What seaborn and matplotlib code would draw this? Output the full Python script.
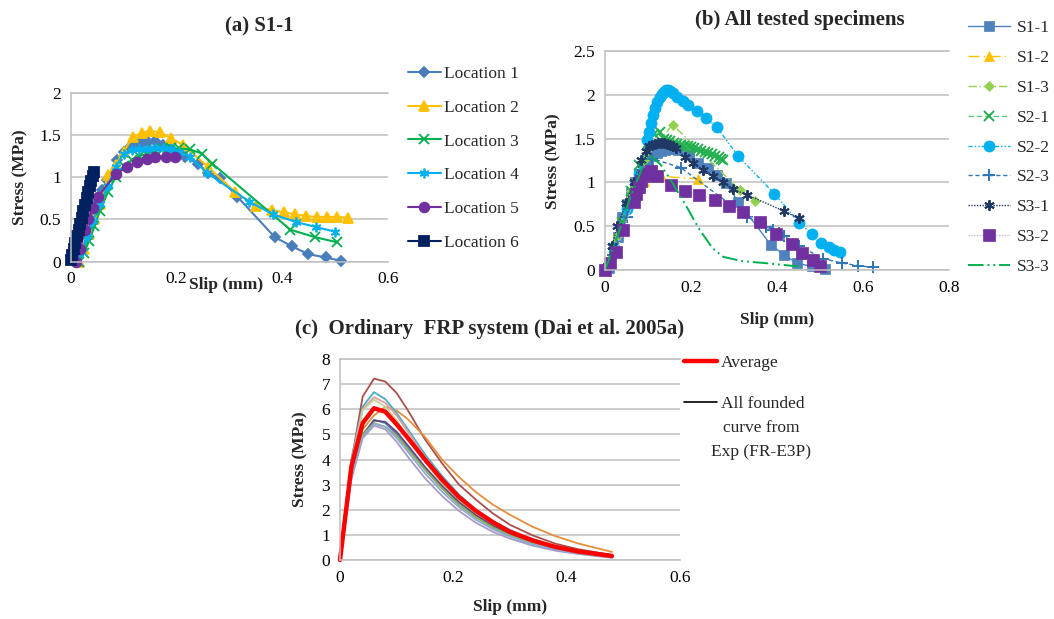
import matplotlib
matplotlib.use("Agg")
import matplotlib.pyplot as plt
import seaborn as sns
import numpy as np
from matplotlib.ticker import FuncFormatter
from matplotlib.lines import Line2D

sns.set_theme(style="white")
plt.rcParams['font.family'] = ['Liberation Serif', 'DejaVu Serif']

# ---------------- Panel (a): S1-1 locations ----------------
loc1_x = [0.01, 0.02, 0.03, 0.04, 0.05, 0.06, 0.068, 0.087, 0.10, 0.11, 0.12, 0.13, 0.137, 0.147, 0.16, 0.175, 0.19, 0.216, 0.241, 0.26, 0.282, 0.315, 0.386, 0.419, 0.449, 0.482, 0.512]
loc1_y = [0.0, 0.12, 0.3, 0.5, 0.7, 0.85, 0.97, 1.2, 1.3, 1.35, 1.38, 1.4, 1.41, 1.42, 1.43, 1.38, 1.33, 1.24, 1.16, 1.05, 0.99, 0.77, 0.29, 0.18, 0.09, 0.05, 0.01]
loc2_x = [0.015, 0.025, 0.035, 0.045, 0.055, 0.071, 0.085, 0.1, 0.118, 0.134, 0.15, 0.169, 0.19, 0.213, 0.26, 0.31, 0.35, 0.38, 0.404, 0.425, 0.445, 0.465, 0.484, 0.504, 0.525]
loc2_y = [0.0, 0.15, 0.33, 0.5, 0.68, 1.03, 1.15, 1.3, 1.48, 1.52, 1.55, 1.53, 1.46, 1.38, 1.12, 0.83, 0.66, 0.61, 0.585, 0.56, 0.54, 0.53, 0.53, 0.53, 0.52]
loc3_x = [0.015, 0.025, 0.035, 0.045, 0.055, 0.07, 0.085, 0.1, 0.115, 0.13, 0.145, 0.16, 0.175, 0.19, 0.205, 0.225, 0.248, 0.268, 0.415, 0.462, 0.504]
loc3_y = [0.0, 0.1, 0.25, 0.42, 0.6, 0.82, 1.0, 1.13, 1.2, 1.25, 1.28, 1.31, 1.33, 1.34, 1.34, 1.33, 1.28, 1.16, 0.38, 0.29, 0.23]
loc4_x = [0.012, 0.022, 0.032, 0.042, 0.055, 0.07, 0.085, 0.1, 0.115, 0.13, 0.145, 0.16, 0.175, 0.19, 0.205, 0.225, 0.258, 0.338, 0.383, 0.426, 0.464, 0.5]
loc4_y = [0.0, 0.12, 0.3, 0.48, 0.68, 0.9, 1.12, 1.28, 1.32, 1.33, 1.33, 1.34, 1.34, 1.33, 1.3, 1.24, 1.05, 0.71, 0.56, 0.47, 0.41, 0.355]
loc5_x = [0.01, 0.018, 0.027, 0.033, 0.042, 0.052, 0.085, 0.107, 0.126, 0.144, 0.159, 0.18, 0.197]
loc5_y = [0.0, 0.15, 0.38, 0.51, 0.64, 0.77, 1.04, 1.12, 1.18, 1.22, 1.24, 1.24, 1.24]
loc6_x = [0.0, 0.003, 0.006, 0.009, 0.012, 0.015, 0.018, 0.021, 0.024, 0.027, 0.030, 0.033, 0.036, 0.039, 0.042, 0.045]
loc6_y = [0.02, 0.08, 0.15, 0.22, 0.3, 0.37, 0.45, 0.52, 0.6, 0.67, 0.75, 0.82, 0.89, 0.96, 1.02, 1.06]
loc_labels = ["Location 1", "Location 2", "Location 3", "Location 4", "Location 5", "Location 6"]

# ---------------- Panel (b): all specimens ----------------
s11_x = [0.01, 0.02, 0.03, 0.04, 0.05, 0.06, 0.07, 0.08, 0.09, 0.10, 0.11, 0.12, 0.13, 0.14, 0.15, 0.16, 0.17, 0.195, 0.217, 0.239, 0.26, 0.281, 0.31, 0.385, 0.417, 0.446, 0.481, 0.512]
s11_y = [0.02, 0.2, 0.38, 0.6, 0.75, 0.88, 1.0, 1.1, 1.2, 1.26, 1.3, 1.33, 1.36, 1.37, 1.38, 1.38, 1.37, 1.31, 1.22, 1.16, 1.08, 0.99, 0.78, 0.29, 0.17, 0.08, 0.04, 0.01]
s12_x = [0.0, 0.02, 0.04, 0.055, 0.07, 0.09, 0.11, 0.13, 0.216]
s12_y = [0.0, 0.3, 0.55, 0.82, 0.95, 1.02, 1.06, 1.07, 1.04]
s13_x = [0.0, 0.03, 0.06, 0.09, 0.157, 0.314, 0.349]
s13_y = [0.0, 0.4, 0.9, 1.25, 1.66, 0.91, 0.79]
s21_x = [0.0, 0.02, 0.04, 0.06, 0.08, 0.1, 0.115, 0.128, 0.137, 0.145, 0.152, 0.16, 0.168, 0.176, 0.184, 0.192, 0.2, 0.208, 0.216, 0.224, 0.232, 0.24, 0.248, 0.256, 0.264, 0.27, 0.275]
s21_y = [0.0, 0.25, 0.55, 0.9, 1.2, 1.45, 1.55, 1.58, 1.5, 1.48, 1.47, 1.45, 1.44, 1.43, 1.42, 1.41, 1.4, 1.39, 1.38, 1.36, 1.35, 1.34, 1.32, 1.3, 1.29, 1.27, 1.26]
s22_x = [0.0, 0.02, 0.05, 0.08, 0.097, 0.102, 0.107, 0.112, 0.117, 0.122, 0.127, 0.132, 0.137, 0.142, 0.147, 0.152, 0.158, 0.167, 0.182, 0.194, 0.213, 0.234, 0.26, 0.31, 0.394, 0.452, 0.481, 0.502, 0.522, 0.533, 0.547]
s22_y = [0.0, 0.25, 0.7, 1.1, 1.48, 1.58, 1.68, 1.77, 1.85, 1.92, 1.97, 2.01, 2.03, 2.05, 2.05, 2.04, 2.02, 1.98, 1.93, 1.88, 1.82, 1.74, 1.63, 1.30, 0.87, 0.54, 0.41, 0.31, 0.26, 0.23, 0.2]
s23_x = [0.0, 0.019, 0.05, 0.08, 0.11, 0.176, 0.33, 0.375, 0.391, 0.405, 0.416, 0.452, 0.508, 0.55, 0.588, 0.624]
s23_y = [0.0, 0.17, 0.6, 1.0, 1.27, 1.17, 0.61, 0.49, 0.46, 0.42, 0.39, 0.27, 0.13, 0.08, 0.05, 0.03]
s31_x = [0.005, 0.016, 0.029, 0.049, 0.067, 0.084, 0.095, 0.103, 0.11, 0.117, 0.124, 0.131, 0.138, 0.145, 0.152, 0.158, 0.165, 0.186, 0.205, 0.227, 0.25, 0.274, 0.297, 0.33, 0.417, 0.45]
s31_y = [0.05, 0.27, 0.5, 0.76, 1.01, 1.26, 1.36, 1.41, 1.43, 1.44, 1.45, 1.45, 1.45, 1.44, 1.43, 1.42, 1.39, 1.29, 1.22, 1.14, 1.07, 1.0, 0.92, 0.86, 0.67, 0.59]
s32_x = [0.0, 0.012, 0.026, 0.043, 0.067, 0.073, 0.079, 0.084, 0.09, 0.097, 0.107, 0.122, 0.153, 0.186, 0.219, 0.255, 0.288, 0.321, 0.36, 0.397, 0.436, 0.459, 0.484, 0.501]
s32_y = [0.0, 0.08, 0.2, 0.46, 0.78, 0.87, 0.95, 1.02, 1.07, 1.1, 1.13, 1.07, 0.97, 0.9, 0.86, 0.8, 0.73, 0.66, 0.55, 0.41, 0.3, 0.19, 0.11, 0.05]
s33_x = [0.0, 0.03, 0.06, 0.09, 0.105, 0.13, 0.16, 0.19, 0.22, 0.25, 0.275, 0.32, 0.37, 0.45]
s33_y = [0.0, 0.4, 0.85, 1.2, 1.31, 1.2, 0.97, 0.72, 0.46, 0.25, 0.15, 0.1, 0.08, 0.04]
spec_labels = ["S1-1", "S1-2", "S1-3", "S2-1", "S2-2", "S2-3", "S3-1", "S3-2", "S3-3"]

# ---------------- Panel (c): Dai et al. 2005a ----------------
c_slip = [0.0, 0.02, 0.04, 0.06, 0.08, 0.10, 0.12, 0.15, 0.18, 0.21, 0.24, 0.27, 0.30, 0.34, 0.38, 0.42, 0.48]
c_brown = [0, 3.9, 6.5, 7.22, 7.1, 6.64, 5.95, 4.8, 3.85, 3.0, 2.4, 1.85, 1.4, 0.98, 0.65, 0.43, 0.2]
c_orange = [0, 3.5, 5.2, 5.75, 6.1, 5.95, 5.6, 4.9, 4.0, 3.3, 2.7, 2.2, 1.8, 1.32, 0.95, 0.66, 0.32]
c_teal = [0, 4.0, 6.1, 6.68, 6.4, 5.85, 5.2, 4.2, 3.35, 2.6, 2.0, 1.55, 1.2, 0.82, 0.55, 0.36, 0.15]
c_pink = [0, 3.9, 6.0, 6.48, 6.25, 5.75, 5.1, 4.1, 3.25, 2.52, 1.95, 1.5, 1.15, 0.78, 0.52, 0.34, 0.14]
c_lgreen = [0, 3.8, 5.95, 6.38, 6.1, 5.55, 4.9, 3.9, 3.05, 2.35, 1.8, 1.38, 1.05, 0.7, 0.46, 0.3, 0.12]
c_blue = [0, 3.3, 4.95, 5.58, 5.45, 5.0, 4.45, 3.6, 2.85, 2.2, 1.7, 1.3, 1.0, 0.68, 0.45, 0.29, 0.12]
c_purple = [0, 3.4, 5.0, 5.55, 5.5, 5.1, 4.55, 3.7, 2.95, 2.3, 1.78, 1.36, 1.04, 0.7, 0.47, 0.3, 0.12]
c_green = [0, 3.5, 5.0, 5.45, 5.3, 4.95, 4.4, 3.6, 2.85, 2.2, 1.7, 1.3, 0.98, 0.66, 0.43, 0.28, 0.11]
c_lavender = [0, 3.2, 4.85, 5.35, 5.2, 4.7, 4.1, 3.25, 2.55, 1.95, 1.48, 1.12, 0.85, 0.57, 0.37, 0.24, 0.09]
c_grayblue = [0, 3.3, 4.9, 5.42, 5.3, 4.85, 4.3, 3.45, 2.72, 2.1, 1.6, 1.22, 0.93, 0.62, 0.41, 0.26, 0.1]
c_average = [0, 3.7, 5.45, 6.04, 5.9, 5.4, 4.85, 4.0, 3.2, 2.5, 1.95, 1.5, 1.12, 0.78, 0.52, 0.34, 0.16]
c_labels = ["Average", "All founded", "curve from\nExp (FR-E3P)"]

W, H = 1054, 619
fig = plt.figure(figsize=(W / 100, H / 100), dpi=100)
GRID = '#BFBFBF'
FS = 12.5


def px_ax(l, r, t, b):
    return fig.add_axes([l / W, 1 - b / H, (r - l) / W, (b - t) / H])


def style_ax(ax, xmax, xstep, ymax, ystep):
    ax.set_xlim(0, xmax)
    ax.set_ylim(0, ymax)
    ax.set_xticks(np.arange(0, xmax + 1e-9, xstep))
    ax.set_yticks(np.arange(0, ymax + 1e-9, ystep))
    fmt = FuncFormatter(lambda v, p: f"{v:g}")
    ax.xaxis.set_major_formatter(fmt)
    ax.yaxis.set_major_formatter(fmt)
    ax.yaxis.grid(True, color=GRID, lw=1.1)
    ax.xaxis.grid(False)
    ax.set_axisbelow(True)
    ax.spines['right'].set_visible(False)
    for s in ['left', 'top', 'bottom']:
        ax.spines[s].set_color(GRID)
        ax.spines[s].set_linewidth(1.1)
    ax.tick_params(length=0, labelsize=FS, pad=7, colors='black')
    ax.set_xlabel('')
    ax.set_ylabel('')
    ax.set_facecolor('white')


def draw(ax, x, y, **kw):
    sns.lineplot(x=x, y=y, ax=ax, sort=False, estimator=None, **kw)
    ln = ax.lines[-1]
    ln.set_clip_on(False)
    return ln


# ---- (a)
axa = px_ax(70.7, 388, 92.7, 261.7)
a_specs = [
    (loc1_x, loc1_y, '#4A7EBB', 'D', 5.5, 1.5),
    (loc2_x, loc2_y, '#FFC000', '^', 7, 1.5),
    (loc3_x, loc3_y, '#00B050', 'x', 6.5, 1.5),
    (loc4_x, loc4_y, '#00B0F0', (6, 2, 0), 7, 1.5),
    (loc5_x, loc5_y, '#7030A0', 'o', 7, 1.5),
    (loc6_x, loc6_y, '#002060', 's', 7, 1.5),
]
ha = []
for (x, y, c, m, ms, lw), lab in zip(a_specs, loc_labels):
    ln = draw(axa, x, y, color=c, marker=m, markersize=ms, linewidth=lw,
              markeredgecolor=c, markerfacecolor=c, markeredgewidth=1.3, label=lab)
    ha.append(ln)
style_ax(axa, 0.6, 0.2, 2.0, 0.5)
axa.legend(ha, loc_labels, loc='upper left', bbox_to_anchor=(408 / W, 1 - 66 / H),
           bbox_transform=fig.transFigure, frameon=False, fontsize=FS,
           handlelength=1.9, handletextpad=0.2, labelspacing=1.01, borderpad=0, borderaxespad=0)

# ---- (b)
axb = px_ax(605, 949, 51, 270)
b_specs = [
    (s11_x, s11_y, '#4F81BD', 's', 7.5, '-', 1.0, '#4F81BD'),
    (s12_x, s12_y, '#FFC000', '^', 7.5, (0, (8, 3, 1, 3)), 1.0, '#FFC000'),
    (s13_x, s13_y, '#92D050', 'D', 5.5, (0, (6, 2, 1, 2)), 1.0, '#92D050'),
    (s21_x, s21_y, '#22B04E', 'x', 6.5, (0, (4, 2)), 1.0, '#5CCB84'),
    (s22_x, s22_y, '#00B0F0', 'o', 8, (0, (3, 1.5, 1, 1.5, 1, 1.5)), 1.0, '#00B0F0'),
    (s23_x, s23_y, '#2E75B6', '+', 8, (0, (3, 2)), 1.0, '#2E75B6'),
    (s31_x, s31_y, '#1F3864', (6, 2, 0), 7.5, (0, (1, 1)), 1.0, '#1F3864'),
    (s32_x, s32_y, '#7030A0', 's', 8, (0, (1, 1)), 1.0, '#C9B3DC'),
    (s33_x, s33_y, '#00B050', None, 0, (0, (8, 2, 1, 2, 1, 2)), 1.4, '#00B050'),
]
hb = []
for (x, y, mc, m, ms, ls, lw, lc), lab in zip(b_specs, spec_labels):
    kw = dict(color=lc, linewidth=lw, linestyle=ls, label=lab)
    if m is not None:
        kw.update(marker=m, markersize=ms, markeredgecolor=mc, markerfacecolor=mc,
                  markeredgewidth=1.4 if m in ('x', '+') or isinstance(m, tuple) else 0.5)
    ln = draw(axb, x, y, **kw)
    hb.append(ln)
style_ax(axb, 0.8, 0.2, 2.5, 0.5)
axb.legend(hb, spec_labels, loc='upper left', bbox_to_anchor=(968 / W, 1 - 20 / H),
           bbox_transform=fig.transFigure, frameon=False, fontsize=FS,
           handlelength=2.4, handletextpad=0.4, labelspacing=0.79, borderpad=0, borderaxespad=0)

# ---- (c)
axc = px_ax(340, 680, 359, 560)
c_curves = [
    (c_brown, '#A9504C'), (c_orange, '#E58F3D'), (c_teal, '#4BACC6'), (c_pink, '#DDA09C'),
    (c_lgreen, '#C3D69B'), (c_blue, '#4F81BD'), (c_purple, '#604A7B'), (c_green, '#8FB05A'),
    (c_lavender, '#A99BC4'), (c_grayblue, '#8EAAD4'),
]
for ys, col in c_curves:
    draw(axc, c_slip, ys, color=col, linewidth=1.3)
draw(axc, c_slip, c_average, color='#FF0000', linewidth=3.2)
style_ax(axc, 0.6, 0.2, 8, 1)
h_all = Line2D([], [], color='black', lw=1.2)
h_avg = Line2D([], [], color='#FF0000', lw=3.2)
axc.legend([h_avg, h_all], c_labels[:2],
           loc='upper left', bbox_to_anchor=(684 / W, 1 - 355 / H),
           bbox_transform=fig.transFigure, frameon=False, fontsize=FS,
           handlelength=1.9, handletextpad=0.25, labelspacing=1.45, borderpad=0, borderaxespad=0)
fig.text(761 / W, 1 - 440 / H, c_labels[2], ha='center', va='center', fontsize=FS,
         linespacing=1.6)

# ---- titles & labels
tfs = 15
fig.text(259 / W, 1 - 26 / H, '(a) S1-1', ha='center', va='center', fontsize=tfs, fontweight='bold')
fig.text(800 / W, 1 - 20 / H, '(b) All tested specimens', ha='center', va='center', fontsize=tfs, fontweight='bold')
fig.text(490 / W, 1 - 329 / H, '(c)  Ordinary  FRP system (Dai et al. 2005a)', ha='center', va='center',
         fontsize=tfs, fontweight='bold')

lfs = 12.5
fig.text(226 / W, 1 - 285 / H, 'Slip (mm)', ha='center', va='center', fontsize=lfs, fontweight='bold')
fig.text(777 / W, 1 - 320 / H, 'Slip (mm)', ha='center', va='center', fontsize=lfs, fontweight='bold')
fig.text(510 / W, 1 - 607 / H, 'Slip (mm)', ha='center', va='center', fontsize=lfs, fontweight='bold')
fig.text(20 / W, 1 - 177 / H, 'Stress (MPa)', ha='center', va='center', rotation=90, fontsize=lfs, fontweight='bold')
fig.text(553 / W, 1 - 161 / H, 'Stress (MPa)', ha='center', va='center', rotation=90, fontsize=lfs, fontweight='bold')
fig.text(300 / W, 1 - 459 / H, 'Stress (MPa)', ha='center', va='center', rotation=90, fontsize=lfs, fontweight='bold')

fig.savefig('out.png', dpi=100, facecolor='white')
